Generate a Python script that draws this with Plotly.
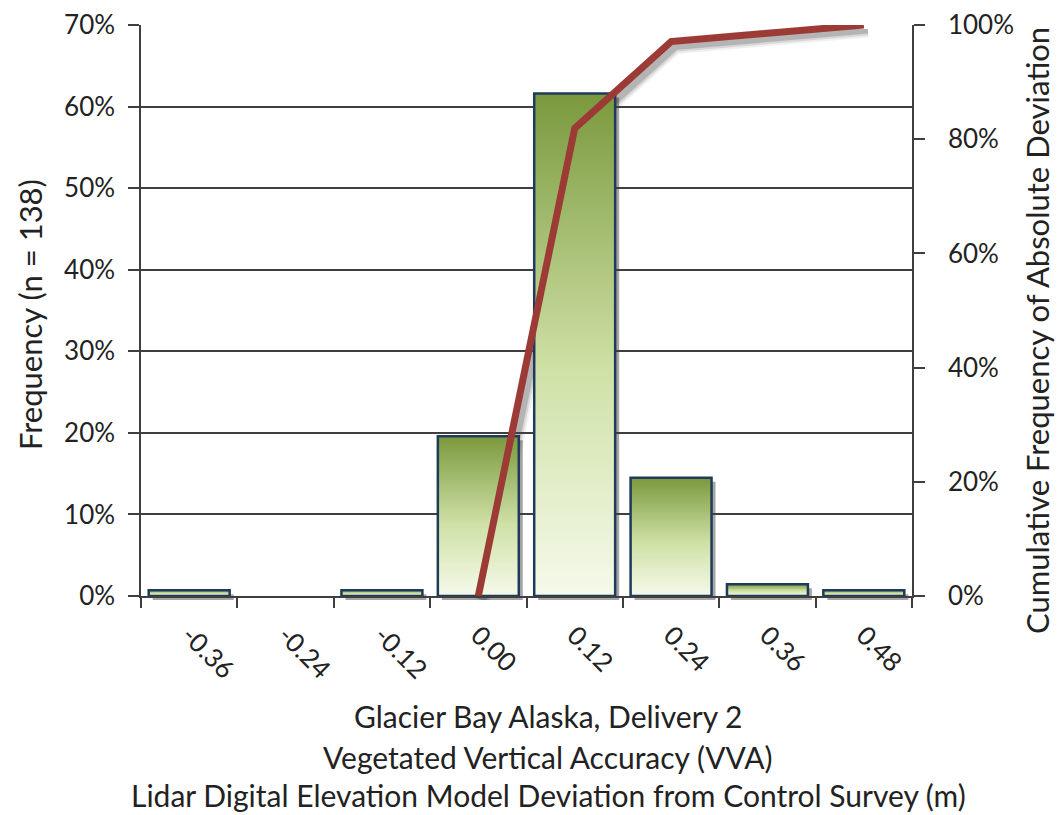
import plotly.graph_objects as go

# Histogram bins (bin labels in metres) and share of the 138 checkpoints
bin_labels = ["-0.36", "-0.24", "-0.12", "0.00", "0.12", "0.24", "0.36", "0.48"]
freq_pct = [0.72, 0.0, 0.72, 19.57, 61.59, 14.49, 1.45, 0.72]

# Cumulative frequency of absolute deviation (right axis)
cum_labels = ["0.00", "0.12", "0.24", "0.36", "0.48"]
cum_pct = [0.0, 81.9, 97.1, 98.6, 100.0]

y_left_ticks = [0, 10, 20, 30, 40, 50, 60, 70]
y_right_ticks = [0, 20, 40, 60, 80, 100]

FONT = "Lato"
TXT = "#222222"
GRID = "#3f3f3f"
BAR_EDGE = "#1f3a5a"
LINE_RED = "#9c3a36"
GRAD = [[0.0, "#f5faea"], [0.45, "#cfe1a6"], [1.0, "#7a993d"]]

W, H = 1059, 815
ML, MR, MT, MB = 141, 143, 25, 215
PW, PH = W - ML - MR, H - MT - MB
SX, SY = 4, 4          # drop-shadow offset in pixels
dx, dy = SX / PW, SY / PH
HALF = 0.42            # half bar width in category units

idx = {lab: i for i, lab in enumerate(bin_labels)}

fig = go.Figure()

# ---- drop shadows (drawn first, on an offset copy of the axes) ----
for i, v in enumerate(freq_pct):
    if v <= 0:
        continue
    fig.add_trace(go.Scatter(
        x=[i - HALF, i - HALF, i + HALF, i + HALF, i - HALF],
        y=[0, v, v, 0, 0], xaxis="x", yaxis="y",
        mode="lines", line=dict(width=0), fill="toself",
        fillcolor="rgba(0,0,0,0.35)", hoverinfo="skip", showlegend=False))

cx = [idx[c] for c in cum_labels]
for w, a in [(17, 0.06), (13, 0.1), (9, 0.16)]:
    fig.add_trace(go.Scatter(
        x=cx, y=cum_pct, xaxis="x", yaxis="y4", mode="lines",
        line=dict(color=f"rgba(0,0,0,{a})", width=w),
        hoverinfo="skip", showlegend=False))

# ---- histogram bars with vertical gradient ----
for i, v in enumerate(freq_pct):
    if v <= 0:
        continue
    fig.add_trace(go.Scatter(
        x=[i - HALF, i - HALF, i + HALF, i + HALF, i - HALF],
        y=[0, v, v, 0, 0], xaxis="x2", yaxis="y2",
        mode="lines", line=dict(color=BAR_EDGE, width=2.5),
        fill="toself",
        fillgradient=dict(type="vertical", colorscale=GRAD),
        name=bin_labels[i], showlegend=False))

# ---- cumulative frequency line ----
fig.add_trace(go.Scatter(
    x=cx, y=cum_pct, xaxis="x2", yaxis="y3", mode="lines",
    line=dict(color=LINE_RED, width=7), showlegend=False))

tickfont = dict(family=FONT, size=26, color=TXT)
hidden = dict(visible=False, fixedrange=True, automargin=False)

fig.update_layout(
    width=W, height=H,
    margin=dict(l=ML, r=MR, t=MT, b=MB, autoexpand=False),
    paper_bgcolor="white", plot_bgcolor="rgba(0,0,0,0)",
    font=dict(family=FONT, color=TXT),
    xaxis=dict(domain=[dx, 1], range=[-0.5, 7.5], anchor="y", **hidden),
    yaxis=dict(domain=[0, 1 - dy], range=[0, 70], anchor="x", **hidden),
    yaxis4=dict(range=[0, 100], overlaying="y", anchor="x", **hidden),
    xaxis2=dict(
        domain=[0, 1 - dx], range=[-0.5, 7.5], anchor="y2",
        tickmode="array", tickvals=list(range(len(bin_labels))),
        ticktext=bin_labels, tickangle=45, tickfont=tickfont,
        ticks="outside", ticklen=0, ticklabelstandoff=12,
        minor=dict(ticks="outside", ticklen=10, tickwidth=1.5,
                   tickcolor=GRID, tick0=-0.5, dtick=1, showgrid=False),
        showline=True, linecolor=GRID, linewidth=1.5,
        showgrid=False, zeroline=False, fixedrange=True, automargin=False),
    yaxis2=dict(
        domain=[dy, 1], range=[0, 70], anchor="x2",
        tickmode="array", tickvals=y_left_ticks,
        ticktext=[f"{t}%" for t in y_left_ticks], tickfont=tickfont,
        ticks="outside", ticklen=11, tickwidth=1.5, tickcolor=GRID,
        ticklabelstandoff=8,
        showgrid=True, gridcolor=GRID, gridwidth=1.5,
        showline=True, linecolor=GRID, linewidth=1.5,
        zeroline=False, fixedrange=True, automargin=False),
    yaxis3=dict(
        range=[0, 100], overlaying="y2", side="right", anchor="x2",
        tickmode="array", tickvals=y_right_ticks,
        ticktext=[f"{t}%" for t in y_right_ticks], tickfont=tickfont,
        ticks="outside", ticklen=11, tickwidth=1.5, tickcolor=GRID,
        ticklabelstandoff=18,
        showgrid=False, showline=True, linecolor=GRID, linewidth=1.5,
        zeroline=False, fixedrange=True, automargin=False),
)


def px_x(p):
    return (p - ML) / PW


def px_y(p):
    return (H - MB - p) / PH


title_font = dict(family=FONT, size=31, color=TXT)
common = dict(xref="paper", yref="paper", showarrow=False,
              xanchor="center", yanchor="middle")
fig.add_annotation(text="Frequency (n = 138)", textangle=-90,
                   x=px_x(30), y=px_y(315), font=title_font, **common)
fig.add_annotation(text="Cumulative Frequency of Absolute Deviation",
                   textangle=-90, x=px_x(1037), y=px_y(331),
                   font=title_font, **common)
bottom_font = dict(family=FONT, size=30, color=TXT)
for text, yc in [("Glacier Bay Alaska, Delivery 2", 716),
                 ("Vegetated Vertical Accuracy (VVA)", 757),
                 ("Lidar Digital Elevation Model Deviation from Control Survey (m)", 795)]:
    fig.add_annotation(text=text, x=px_x(548), y=px_y(yc),
                       font=bottom_font, **common)

fig.write_html("out.html")
